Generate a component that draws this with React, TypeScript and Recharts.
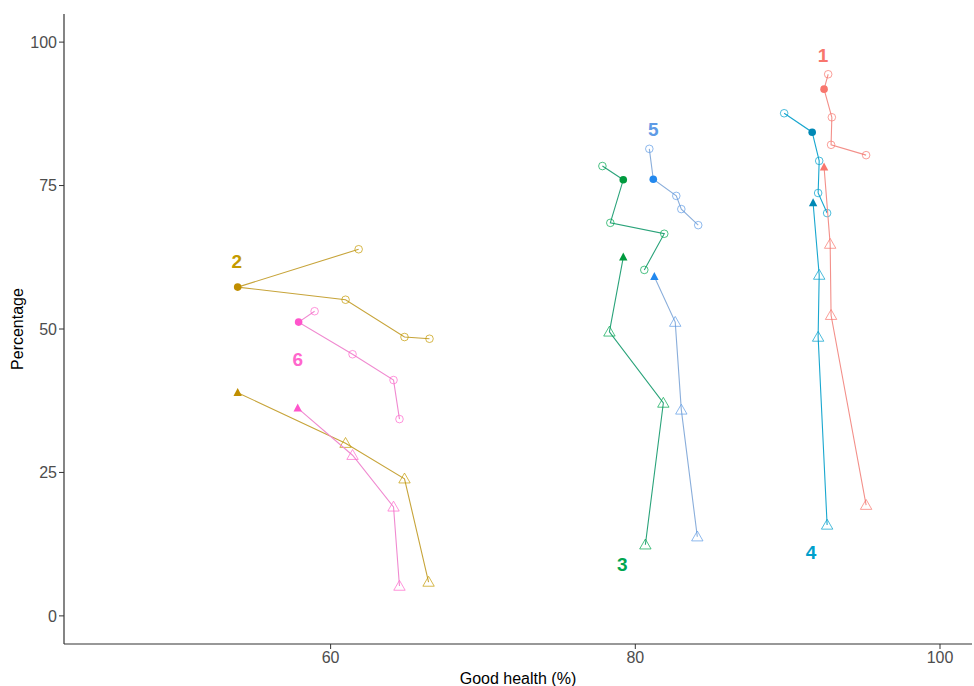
import React from 'react';
import { ScatterChart, Scatter, XAxis, YAxis } from 'recharts';

type Pt = { x: number; y: number; filled: boolean };

const group1Circles: Pt[] = [
  { x: 92.66, y: 94.4, filled: false },
  { x: 92.39, y: 91.8, filled: true },
  { x: 92.9, y: 86.9, filled: false },
  { x: 92.85, y: 82.1, filled: false },
  { x: 95.15, y: 80.3, filled: false },
];
const group1Triangles: Pt[] = [
  { x: 92.39, y: 78.2, filled: true },
  { x: 92.79, y: 64.8, filled: false },
  { x: 92.85, y: 52.4, filled: false },
  { x: 95.15, y: 19.3, filled: false },
];
const group2Circles: Pt[] = [
  { x: 61.84, y: 63.9, filled: false },
  { x: 53.9, y: 57.3, filled: true },
  { x: 60.98, y: 55.1, filled: false },
  { x: 64.85, y: 48.6, filled: false },
  { x: 66.49, y: 48.3, filled: false },
];
const group2Triangles: Pt[] = [
  { x: 53.9, y: 38.9, filled: true },
  { x: 60.98, y: 30.1, filled: false },
  { x: 64.85, y: 23.9, filled: false },
  { x: 66.43, y: 5.9, filled: false },
];
const group3Circles: Pt[] = [
  { x: 77.84, y: 78.4, filled: false },
  { x: 79.21, y: 76.0, filled: true },
  { x: 78.36, y: 68.5, filled: false },
  { x: 81.9, y: 66.6, filled: false },
  { x: 80.59, y: 60.3, filled: false },
];
const group3Triangles: Pt[] = [
  { x: 79.21, y: 62.5, filled: true },
  { x: 78.3, y: 49.5, filled: false },
  { x: 81.84, y: 37.1, filled: false },
  { x: 80.66, y: 12.4, filled: false },
];
const group4Circles: Pt[] = [
  { x: 89.77, y: 87.6, filled: false },
  { x: 91.61, y: 84.3, filled: true },
  { x: 92.07, y: 79.3, filled: false },
  { x: 92.0, y: 73.7, filled: false },
  { x: 92.59, y: 70.2, filled: false },
];
const group4Triangles: Pt[] = [
  { x: 91.67, y: 71.95, filled: true },
  { x: 92.07, y: 59.4, filled: false },
  { x: 92.0, y: 48.6, filled: false },
  { x: 92.59, y: 15.85, filled: false },
];
const group5Circles: Pt[] = [
  { x: 80.92, y: 81.4, filled: false },
  { x: 81.18, y: 76.1, filled: true },
  { x: 82.69, y: 73.2, filled: false },
  { x: 83.02, y: 70.9, filled: false },
  { x: 84.13, y: 68.1, filled: false },
];
const group5Triangles: Pt[] = [
  { x: 81.25, y: 59.1, filled: true },
  { x: 82.62, y: 51.2, filled: false },
  { x: 83.02, y: 35.9, filled: false },
  { x: 84.07, y: 13.8, filled: false },
];
const group6Circles: Pt[] = [
  { x: 58.95, y: 53.1, filled: false },
  { x: 57.9, y: 51.2, filled: true },
  { x: 61.44, y: 45.6, filled: false },
  { x: 64.13, y: 41.1, filled: false },
  { x: 64.52, y: 34.3, filled: false },
];
const group6Triangles: Pt[] = [
  { x: 57.84, y: 36.2, filled: true },
  { x: 61.44, y: 28.0, filled: false },
  { x: 64.13, y: 19.0, filled: false },
  { x: 64.52, y: 5.2, filled: false },
];

const groupLabels = [
  { x: 92.33, y: 97.7, label: '1' },
  { x: 53.84, y: 61.7, label: '2' },
  { x: 79.15, y: 8.9, label: '3' },
  { x: 91.54, y: 11.0, label: '4' },
  { x: 81.18, y: 84.7, label: '5' },
  { x: 57.84, y: 44.6, label: '6' },
];

const xTicks = [60, 80, 100];
const yTicks = [0, 25, 50, 75, 100];

const groupColors = ['#F8766D', '#C49A00', '#00A650', '#00A0CC', '#5E9BE6', '#FF66CC'];
const lineColors = ['#F3908A', '#C7A43A', '#2AA37A', '#19A7CF', '#8AAEDB', '#F08AD0'];
const filledColors = ['#F8766D', '#C08E00', '#009A3E', '#0088B5', '#2288EE', '#FF55CC'];

const groups = [
  [group1Circles, group1Triangles],
  [group2Circles, group2Triangles],
  [group3Circles, group3Triangles],
  [group4Circles, group4Triangles],
  [group5Circles, group5Triangles],
  [group6Circles, group6Triangles],
];

const FONT = 'Liberation Sans, Arial, sans-serif';

const makeShape = (kind: 'circle' | 'triangle', color: string, fillColor: string) => (props: any) => {
  const { cx, cy, payload } = props;
  if (cx == null || cy == null) return <g />;
  const filled = payload && payload.filled;
  if (kind === 'circle') {
    return filled ? (
      <circle cx={cx} cy={cy} r={3.8} fill={fillColor} stroke="none" />
    ) : (
      <circle cx={cx} cy={cy} r={3.8} fill="none" stroke={color} strokeOpacity={0.7} strokeWidth={1} />
    );
  }
  if (filled) {
    const h = 4.2;
    return (
      <polygon
        points={`${cx},${cy - h - 0.5} ${cx - h},${cy + h - 1} ${cx + h},${cy + h - 1}`}
        fill={fillColor}
        stroke="none"
      />
    );
  }
  const s = 5.2;
  return (
    <polygon
      points={`${cx},${cy - s - 0.5} ${cx - s - 0.5},${cy + s - 1} ${cx + s + 0.5},${cy + s - 1}`}
      fill="none"
      stroke={color}
      strokeOpacity={0.7}
      strokeWidth={1}
    />
  );
};

const labelShape = (props: any) => {
  const { cx, cy, payload } = props;
  const idx = Number(payload.label) - 1;
  return (
    <text
      x={cx}
      y={cy}
      textAnchor="middle"
      dominantBaseline="central"
      fontFamily={FONT}
      fontWeight="bold"
      fontSize={19}
      fill={groupColors[idx]}
    >
      {payload.label}
    </text>
  );
};

export default function App() {
  return (
    <div style={{ position: 'absolute', left: 0, top: 0, background: '#fff' }}>
      <ScatterChart width={974} height={686} margin={{ top: 14, right: 2, bottom: 0, left: 0 }}>
        <XAxis
          type="number"
          dataKey="x"
          domain={[42.5, 102.1]}
          ticks={xTicks}
          allowDataOverflow
          height={42}
          tickLine={{ stroke: '#333', strokeWidth: 1 }}
          tickSize={5}
          tickMargin={3}
          axisLine={{ stroke: '#333', strokeWidth: 1.2 }}
          tick={{ fill: '#4D4D4D', fontSize: 16, fontFamily: FONT }}
          label={{
            value: 'Good health (%)',
            position: 'insideBottom',
            offset: 2,
            fill: '#000',
            fontSize: 16,
            fontFamily: FONT,
          }}
        />
        <YAxis
          type="number"
          dataKey="y"
          domain={[-4.9, 104.9]}
          ticks={yTicks}
          allowDataOverflow
          width={64}
          tickLine={{ stroke: '#333', strokeWidth: 1 }}
          tickSize={5}
          tickMargin={2}
          axisLine={{ stroke: '#333', strokeWidth: 1.2 }}
          tick={{ fill: '#4D4D4D', fontSize: 16, fontFamily: FONT }}
          label={{
            value: 'Percentage',
            angle: -90,
            position: 'insideLeft',
            offset: 17,
            fill: '#000',
            fontSize: 16,
            fontFamily: FONT,
            style: { textAnchor: 'middle' },
          }}
        />
        {groups.map(([circles], i) => (
          <Scatter
            key={`c${i}`}
            data={circles}
            line={{ stroke: lineColors[i], strokeWidth: 1.1 }}
            lineType="joint"
            shape={makeShape('circle', groupColors[i], filledColors[i])}
            isAnimationActive={false}
          />
        ))}
        {groups.map(([, triangles], i) => (
          <Scatter
            key={`t${i}`}
            data={triangles}
            line={{ stroke: lineColors[i], strokeWidth: 1.1 }}
            lineType="joint"
            shape={makeShape('triangle', groupColors[i], filledColors[i])}
            isAnimationActive={false}
          />
        ))}
        <Scatter data={groupLabels} shape={labelShape} isAnimationActive={false} />
      </ScatterChart>
    </div>
  );
}
